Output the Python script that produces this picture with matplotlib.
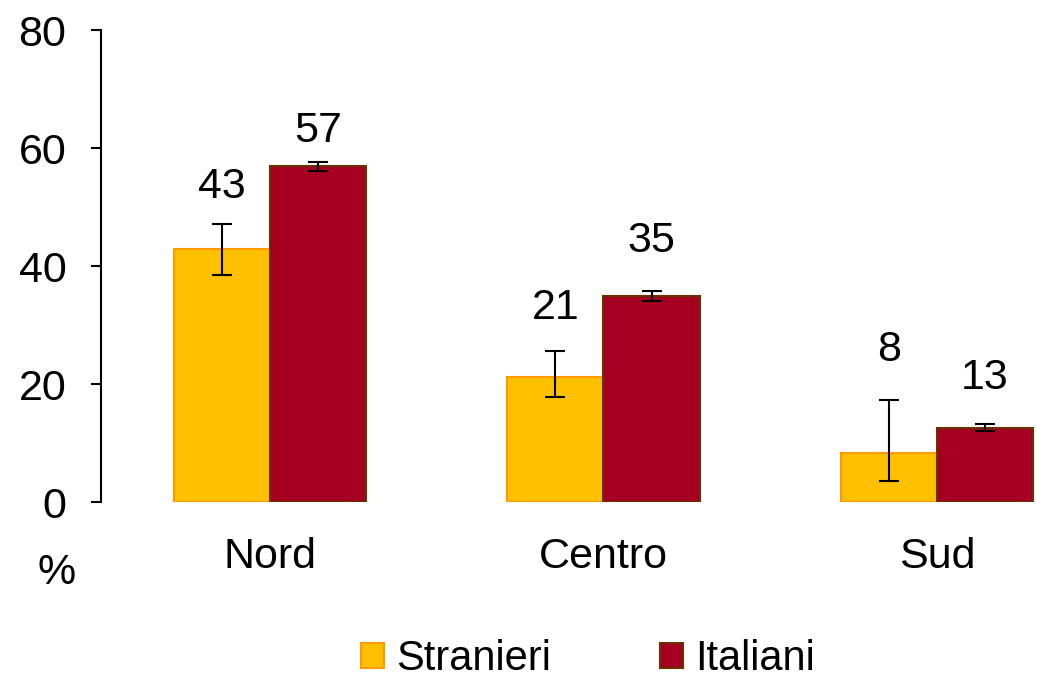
import matplotlib
matplotlib.use("Agg")
import matplotlib.pyplot as plt
from matplotlib.patches import Patch
import numpy as np

plt.rcParams['font.family'] = ['Liberation Sans', 'DejaVu Sans']

# Data
categories = ["Nord", "Centro", "Sud"]
series_names = ["Stranieri", "Italiani"]
stranieri = [42.9, 21.2, 8.3]
italiani = [56.9, 34.9, 12.6]
stranieri_err_low = [4.4, 3.4, 4.7]
stranieri_err_high = [4.2, 4.4, 9.0]
italiani_err_low = [0.8, 0.8, 0.6]
italiani_err_high = [0.8, 0.8, 0.7]
yticks = [0, 20, 40, 60, 80]

# Styling
fill_colors = ["#FFC000", "#A50021"]
edge_colors = ["#FF9900", "#663300"]
label_offsets = [[37, 43, 50], [31, 50, 46]]  # pixels above error-bar tops

W, H = 1037, 685
fig = plt.figure(figsize=(W / 100, H / 100), dpi=100)
ax = fig.add_axes([101 / W, (H - 502) / H, 1000.5 / W, 472 / H])

x = np.arange(len(categories))
bw = 0.288
series = [stranieri, italiani]
err_lo = [stranieri_err_low, italiani_err_low]
err_hi = [stranieri_err_high, italiani_err_high]

for i, vals in enumerate(series):
    xs = x + (i - 0.5) * bw
    ax.bar(xs, vals, width=bw, color=fill_colors[i], edgecolor=edge_colors[i],
           linewidth=1.5, zorder=2)
    ax.errorbar(xs, vals, yerr=[err_lo[i], err_hi[i]], fmt='none',
                ecolor='black', elinewidth=1.5, capsize=7, capthick=1.5, zorder=3)
    for j, v in enumerate(vals):
        ax.annotate(f"{v:.0f}", (xs[j], v + err_hi[i][j]),
                    xytext=(0, label_offsets[i][j]), textcoords='offset pixels',
                    ha='center', va='center', fontsize=31)

ax.set_xlim(-0.5067, 2.4933)
ax.set_ylim(0, 80)
ax.set_yticks(yticks)
ax.set_xticks(x)
ax.set_xticklabels(categories)

for s in ["top", "right", "bottom"]:
    ax.spines[s].set_visible(False)
ax.spines["left"].set_linewidth(1.5)
ax.spines["left"].set_color("black")

ax.tick_params(axis='y', direction='out', length=7, width=1.5, pad=18, labelsize=31)
ax.tick_params(axis='x', length=0, pad=25, labelsize=31)

fig.text(57 / W, 1 - 573 / H, "%", ha='center', va='center', fontsize=31)

handles = [Patch(facecolor=fill_colors[i], edgecolor=edge_colors[i], linewidth=1.5,
                 label=series_names[i]) for i in range(2)]
fig.legend(handles=handles, loc='center', bbox_to_anchor=(588 / W, 1 - 659 / H),
           ncol=2, frameon=False, fontsize=30, handlelength=0.55, handleheight=0.55,
           handletextpad=0.3, columnspacing=2.6, borderpad=0)

fig.savefig("out.png", dpi=100)
